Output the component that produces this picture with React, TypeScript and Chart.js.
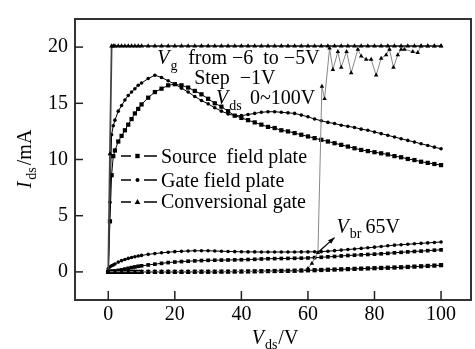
import React, { useEffect, useRef } from 'react';
import { Chart, registerables } from 'chart.js';
Chart.register(...registerables);

const vds = [0, 0.5, 1, 1.5, 2, 3, 4, 5, 6, 7, 8, 9, 10,
  12, 14, 16, 18, 20, 22, 24, 26, 28, 30,
  32, 34, 36, 38, 40, 42, 44, 46, 48, 50,
  52, 54, 56, 58, 60, 62, 64, 66, 68, 70,
  72, 74, 76, 78, 80, 82, 84, 86, 88, 90,
  92, 94, 96, 98, 100];

const srcHigh = [0, 4.5, 8.6, 10.3, 10.8, 11.6, 12.1, 12.6, 13.1, 13.6, 14.1, 14.5, 14.9,
  15.5, 16.0, 16.3, 16.6, 16.7, 16.6, 16.4, 16.1, 15.8, 15.4,
  15.0, 14.7, 14.3, 13.9, 13.7, 13.5, 13.3, 13.1, 12.9, 12.8,
  12.6, 12.5, 12.35, 12.2, 12.05, 11.9, 11.75, 11.6, 11.45, 11.3,
  11.15, 11.0, 10.85, 10.75, 10.65, 10.55, 10.45, 10.3, 10.2, 10.05,
  9.95, 9.8, 9.7, 9.6, 9.5];

const gateHigh = [0, 6.2, 12.2, 13.0, 13.5, 14.3, 14.8, 15.3, 15.7, 16.0, 16.3, 16.6, 16.8,
  17.2, 17.5, 17.3, 17.0, 16.7, 16.35, 16.0, 15.6, 15.25, 14.95,
  14.6, 14.3, 14.05, 13.9, 13.9, 14.0, 14.1, 14.2, 14.25, 14.25,
  14.2, 14.15, 14.1, 13.95, 13.8, 13.6, 13.45, 13.3, 13.2, 13.05,
  12.95, 12.85, 12.7, 12.6, 12.45, 12.3, 12.15, 12.0, 11.85, 11.7,
  11.55, 11.4, 11.25, 11.1, 10.95];

const convHigh = [0, 10.5, 20.1, 20.1, 20.1, 20.1, 20.1, 20.1, 20.1, 20.1, 20.1, 20.1, 20.1,
  20.1, 20.1, 20.1, 20.1, 20.1, 20.1, 20.1, 20.1, 20.1, 20.1,
  20.1, 20.1, 20.1, 20.1, 20.1, 20.1, 20.1, 20.1, 20.1, 20.1,
  20.1, 20.1, 20.1, 20.1, 20.1, 20.1, 20.1, 20.1, 20.1, 20.1,
  20.1, 20.1, 20.1, 20.1, 20.1, 20.1, 20.1, 20.1, 20.1, 20.1,
  20.1, 20.1, 20.1, 20.1, 20.1];

const gateLow = [0.3, 0.45, 0.55, 0.62, 0.7, 0.87, 1.0, 1.1, 1.2, 1.28, 1.35, 1.42, 1.47,
  1.56, 1.63, 1.7, 1.75, 1.8, 1.83, 1.86, 1.88, 1.88, 1.88,
  1.86, 1.84, 1.82, 1.8, 1.79, 1.78, 1.78, 1.77, 1.77, 1.77,
  1.77, 1.77, 1.77, 1.78, 1.78, 1.79, 1.8, 1.84, 1.89, 1.94,
  1.99, 2.04, 2.09, 2.15, 2.2, 2.26, 2.32, 2.38, 2.42, 2.46,
  2.5, 2.54, 2.58, 2.62, 2.66];

const srcLow = [0, 0.02, 0.04, 0.06, 0.08, 0.13, 0.18, 0.25, 0.32, 0.38, 0.44, 0.5, 0.54,
  0.62, 0.69, 0.76, 0.83, 0.88, 0.92, 0.95, 0.98, 1.01, 1.03,
  1.04, 1.05, 1.06, 1.07, 1.08, 1.1, 1.12, 1.15, 1.17, 1.18,
  1.19, 1.2, 1.21, 1.22, 1.24, 1.27, 1.3, 1.34, 1.37, 1.42,
  1.46, 1.49, 1.52, 1.55, 1.58, 1.61, 1.65, 1.7, 1.74, 1.78,
  1.82, 1.85, 1.89, 1.93, 1.96];

const srcOff = [0, 0, 0, 0, 0, 0, 0, 0, 0, 0, 0, 0, 0,
  0, 0, 0, 0, 0, 0, 0, 0.01, 0.01, 0.01,
  0.01, 0.02, 0.02, 0.03, 0.03, 0.04, 0.05, 0.06, 0.07, 0.08,
  0.09, 0.1, 0.11, 0.12, 0.14, 0.15, 0.17, 0.19, 0.21, 0.23,
  0.25, 0.27, 0.29, 0.31, 0.33, 0.35, 0.37, 0.39, 0.41, 0.44,
  0.47, 0.5, 0.53, 0.56, 0.6];

const convLowV = [0, 2, 4, 6, 8, 10, 12, 14, 16, 18, 20, 22, 24, 26, 28, 30, 32, 34, 36, 38,
  40, 42, 44, 46, 48, 50, 52, 54, 56, 58,
  60, 61.2, 63, 64.2, 65, 66.5, 67.5, 69, 70, 71.6, 73, 75, 76, 77.5, 79, 80.5,
  82, 83.5, 84.5, 85.7, 87, 88, 89, 91.5, 93, 94, 96, 98, 100];
const convLowI = [0.02, 0.02, 0.02, 0.02, 0.02, 0.02, 0.02, 0.02, 0.02, 0.02, 0.02, 0.02, 0.02, 0.02, 0.02,
  0.02, 0.02, 0.02, 0.02, 0.02, 0.03, 0.03, 0.03, 0.03, 0.03, 0.04, 0.04, 0.05, 0.06, 0.1,
  0.3, 0.75, 1.7, 16.5, 15.4, 19.9, 18.0, 19.6, 18.2, 19.6, 17.7, 19.8, 19.2, 18.9, 18.9, 17.5,
  19.0, 19.3, 19.8, 18.2, 19.3, 19.8, 19.8, 19.6, 19.5, 20.1, 20.1, 20.1, 20.1];

const xTicks = [0, 20, 40, 60, 80, 100];
const yTicks = [0, 5, 10, 15, 20];
const legendLabels = ['Source  field plate', 'Gate field plate', 'Conversional gate'];

const FONT = '"Liberation Serif", "Times New Roman", serif';
const F_MAIN = `20px ${FONT}`;
const F_ITAL = `italic 20px ${FONT}`;
const F_SUB = `14px ${FONT}`;

type Part = [string, string, number];

function drawRich(ctx: CanvasRenderingContext2D, x: number, y: number, parts: Part[], gap = 1) {
  let cx = x;
  parts.forEach(([t, f, dy]) => {
    ctx.font = f;
    ctx.fillText(t, cx, y + dy);
    cx += ctx.measureText(t).width + gap;
  });
  return cx - x;
}

function marker(ctx: CanvasRenderingContext2D, style: string, x: number, y: number, r: number) {
  ctx.beginPath();
  if (style === 'rect') {
    ctx.rect(x - r, y - r, 2 * r, 2 * r);
  } else if (style === 'circle') {
    ctx.arc(x, y, r, 0, Math.PI * 2);
  } else {
    ctx.moveTo(x, y - r * 1.2);
    ctx.lineTo(x + r * 1.1, y + r * 0.8);
    ctx.lineTo(x - r * 1.1, y + r * 0.8);
    ctx.closePath();
  }
  ctx.fill();
}

const decorPlugin = {
  id: 'decor',
  afterDraw(chart: any) {
    const ctx: CanvasRenderingContext2D = chart.ctx;
    const { left, right, top, bottom } = chart.chartArea;
    const xs = chart.scales.x;
    const ys = chart.scales.y;
    ctx.save();
    // frame
    ctx.strokeStyle = '#333';
    ctx.lineWidth = 2;
    ctx.strokeRect(left, top, right - left, bottom - top);
    // inward ticks
    ctx.lineWidth = 1.5;
    ctx.strokeStyle = '#222';
    xTicks.forEach(v => {
      const p = xs.getPixelForValue(v);
      ctx.beginPath(); ctx.moveTo(p, bottom); ctx.lineTo(p, bottom - 9); ctx.stroke();
    });
    yTicks.forEach(v => {
      const p = ys.getPixelForValue(v);
      ctx.beginPath(); ctx.moveTo(left, p); ctx.lineTo(left + 8, p); ctx.stroke();
    });
    ctx.fillStyle = '#000';
    ctx.textBaseline = 'alphabetic';
    ctx.textAlign = 'left';
    // x title
    {
      ctx.font = F_ITAL; const w1 = ctx.measureText('V').width;
      ctx.font = F_SUB; const w2 = ctx.measureText('ds').width;
      ctx.font = F_MAIN; const w3 = ctx.measureText('/V').width;
      const tw = w1 + w2 + w3 + 2;
      const cx = (left + right) / 2 + 2;
      drawRich(ctx, cx - tw / 2, 344, [['V', F_ITAL, 0], ['ds', F_SUB, 5], ['/V', F_MAIN, 0]]);
    }
    // y title
    {
      ctx.save();
      ctx.font = F_ITAL; const w1 = ctx.measureText('I').width;
      ctx.font = F_SUB; const w2 = ctx.measureText('ds').width;
      ctx.font = F_MAIN; const w3 = ctx.measureText('/mA').width;
      const tw = w1 + w2 + w3 + 4;
      ctx.translate(31, 159 + tw / 2);
      ctx.rotate(-Math.PI / 2);
      drawRich(ctx, 0, 0, [['I', F_ITAL, 0], ['ds', F_SUB, 5], ['/mA', F_MAIN, 0]], 2);
      ctx.restore();
    }
    // annotations
    const px = (v: number) => xs.getPixelForValue(v);
    const py = (v: number) => ys.getPixelForValue(v);
    drawRich(ctx, px(14.75), py(18.5), [['V', F_ITAL, 0], ['g', F_SUB, 6]]);
    drawRich(ctx, px(24.0), py(18.5), [['from \u22126  to \u22125V', F_MAIN, 0]]);
    drawRich(ctx, px(25.8), py(16.68), [['Step  \u22121V', F_MAIN, 0]]);
    drawRich(ctx, px(32.4), py(14.95), [['V', F_ITAL, 0], ['ds', F_SUB, 6]]);
    drawRich(ctx, px(42.6), py(14.95), [['0~100V', F_MAIN, 0]]);
    drawRich(ctx, px(68.6), py(3.44), [['V', F_ITAL, 0], ['br', F_SUB, 5]]);
    drawRich(ctx, px(77.3), py(3.44), [['65V', F_MAIN, 0]]);
    // Vbr arrow
    {
      const x0 = px(62.9), y0 = py(1.71), x1 = px(68.0), y1 = py(3.05);
      ctx.strokeStyle = '#000'; ctx.lineWidth = 1.3;
      ctx.beginPath(); ctx.moveTo(x0, y0); ctx.lineTo(x1, y1); ctx.stroke();
      const a = Math.atan2(y1 - y0, x1 - x0);
      ctx.beginPath();
      ctx.moveTo(x1, y1);
      ctx.lineTo(x1 - 7 * Math.cos(a - 0.35), y1 - 7 * Math.sin(a - 0.35));
      ctx.lineTo(x1 - 7 * Math.cos(a + 0.35), y1 - 7 * Math.sin(a + 0.35));
      ctx.closePath(); ctx.fill();
    }
    // legend
    const rows = [
      { style: 'rect', ly: 156, by: 163, r: 2.2 },
      { style: 'circle', ly: 180, by: 187, r: 2 },
      { style: 'triangle', ly: 202, by: 208, r: 2.6 },
    ];
    rows.forEach((row, i) => {
      ctx.strokeStyle = '#000'; ctx.lineWidth = 1.5;
      ctx.beginPath();
      ctx.moveTo(121, row.ly); ctx.lineTo(131, row.ly);
      ctx.moveTo(144, row.ly); ctx.lineTo(157, row.ly);
      ctx.stroke();
      marker(ctx, row.style, 137.5, row.ly, row.r);
      ctx.font = F_MAIN;
      ctx.fillText(legendLabels[i], 161, row.by);
    });
    ctx.restore();
  },
};

function pts(xs: number[], ys: number[]) {
  return xs.map((x, i) => ({ x, y: ys[i] }));
}

export default function App() {
  const ref = useRef<HTMLCanvasElement>(null);
  useEffect(() => {
    document.body.style.margin = '0';
    const base = { showLine: true, pointBorderWidth: 0, pointBackgroundColor: '#000', borderColor: '#000', borderWidth: 1 };
    const chart = new Chart(ref.current!, {
      type: 'scatter',
      data: {
        datasets: [
          { ...base, label: 'conv high', data: pts(vds, convHigh), pointStyle: 'triangle', pointRadius: 2.8, borderColor: '#444', borderWidth: 1.8 },
          { ...base, label: 'conv low', data: pts(convLowV, convLowI), pointStyle: 'triangle', pointRadius: 2.6, borderColor: '#888' },
          { ...base, label: 'src off', data: pts(vds, srcOff), pointStyle: 'rect', pointRadius: 3 },
          { ...base, label: 'src low', data: pts(vds, srcLow), pointStyle: 'rect', pointRadius: 2.6 },
          { ...base, label: 'gate low', data: pts(vds, gateLow), pointStyle: 'circle', pointRadius: 1.8 },
          { ...base, label: 'src high', data: pts(vds, srcHigh), pointStyle: 'rect', pointRadius: 3 },
          { ...base, label: 'gate high', data: pts(vds, gateHigh), pointStyle: 'circle', pointRadius: 1.8 },
        ],
      },
      options: {
        responsive: false,
        animation: false,
        devicePixelRatio: 1,
        layout: { padding: { left: 0, top: 12, right: 4, bottom: 0 } },
        plugins: { legend: { display: false }, tooltip: { enabled: false } },
        scales: {
          x: {
            type: 'linear', min: -10, max: 109,
            afterBuildTicks: (s: any) => { s.ticks = xTicks.map(v => ({ value: v })); },
            afterFit: (s: any) => { s.height = 49; },
            grid: { display: false, drawTicks: false },
            border: { display: false },
            ticks: { font: { family: FONT, size: 20 }, color: '#000', padding: 3, maxRotation: 0, autoSkip: false },
          },
          y: {
            type: 'linear', min: -2.5, max: 22.5,
            afterBuildTicks: (s: any) => { s.ticks = yTicks.map(v => ({ value: v })); },
            afterFit: (s: any) => { s.width = 75; },
            grid: { display: false, drawTicks: false },
            border: { display: false },
            ticks: { font: { family: FONT, size: 20 }, color: '#000', padding: 7, autoSkip: false },
          },
        },
      } as any,
      plugins: [decorPlugin],
    });
    return () => chart.destroy();
  }, []);
  return (
    <div style={{ width: 475, height: 349 }}>
      <canvas ref={ref} width={475} height={349} style={{ display: 'block' }} />
    </div>
  );
}
